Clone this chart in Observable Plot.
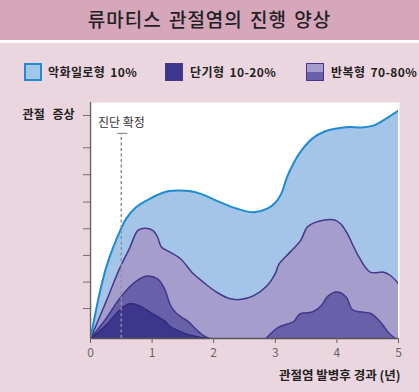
<!DOCTYPE html>
<html><head><meta charset="utf-8">
<script src="https://cdn.jsdelivr.net/npm/d3@7"></script>
<script src="https://cdn.jsdelivr.net/npm/@observablehq/plot@0.6"></script>
<style>
  html,body{margin:0;padding:0}
  body{width:419px;height:392px;position:relative;overflow:hidden;background:#ebd6df;font-family:"Noto Sans CJK KR","Noto Sans",sans-serif;}
  #title{position:absolute;left:0;top:0;width:419px;height:40px;background:#d6a6ba;color:#222;font-size:19px;font-weight:500;text-align:center;line-height:37px;letter-spacing:1px;word-spacing:2px}
  #band{position:absolute;left:0;top:40px;width:419px;height:3px;background:#fff}
  .sw{position:absolute;top:63px;width:18px;height:18px;box-sizing:border-box}
  .lt{position:absolute;top:62px;font-size:12px;font-weight:700;color:#222;line-height:20px;white-space:nowrap;letter-spacing:0.4px;word-spacing:2px}
  #chart{position:absolute;left:0;top:0}
</style>
</head><body>
<div id="title"></div>
<div id="band"></div>
<div id="legend"></div>
<div id="chart"></div>
<script>
// ---- data ----
const titleText = "류마티스 관절염의 진행 양상";
const legendLabels = ["악화일로형 10%", "단기형 10-20%", "반복형 70-80%"];
const yLabel = "관절 증상";
const xLabel = "관절염 발병후 경과 (년)";
const diagLabel = "진단 확정";
const diagT = 0.5;          // year of diagnosis
const diagTop = 86.9;       // height of dashed marker
const diagCap = [0.44, 0.605];
const xTicks = [0, 1, 2, 3, 4, 5];
const yTicks = [12.7, 23.9, 35.2, 46.5, 57.8, 69.4, 80.8, 94.5];

// 악화일로형 (progressive)
const progressiveT = [0,0.14,0.25,0.36,0.47,0.58,0.74,0.96,1.2,1.4,1.6,1.79,2.1,2.38,2.65,2.87,3.0,3.1,3.19,3.3,3.4,3.6,3.8,4.0,4.2,4.4,4.6,4.8,5.0];
const progressiveV = [0,18.2,29.7,38.1,45,50.8,55.6,59.2,62,62.7,62.5,61.3,57.8,55,53.5,55,57.5,61.5,68.4,74.5,78.8,84.7,87.7,89.0,89.6,89.4,90.3,93.2,96.6];

// 반복형 (relapsing) - total envelope
const relapsingT = [0,0.25,0.47,0.63,0.77,0.88,1.01,1.09,1.15,1.29,1.46,1.67,1.83,2.05,2.27,2.45,2.65,2.87,3.0,3.06,3.24,3.41,3.52,3.66,3.95,4.06,4.17,4.33,4.54,4.76,4.87,5.0];
const relapsingV = [0,15.4,29.5,38,45.8,46.7,45.8,42.9,38.8,36.6,33.8,27.4,23.9,19.6,16.8,16.6,18.2,22.5,27.5,31.5,36.6,41.5,47.2,49.3,50.3,48.6,44.4,35.9,28.1,28.1,26.7,23.2];

// 반복형 - lower band, first and second episodes
const relapsingLowAT = [0,0.25,0.47,0.69,0.9,1.09,1.16,1.22,1.29,1.38,1.48,1.58,1.68,1.83,1.93];
const relapsingLowAV = [0,8.3,16.8,23.2,26.4,25.3,23,20,14.5,11,9,7.4,4.8,1.3,0];
const relapsingLowBT = [2.85,3.05,3.3,3.4,3.6,3.75,3.85,4.0,4.15,4.25,4.4,4.55,4.7,4.85,4.95];
const relapsingLowBV = [0,4.7,7.2,10.4,11.2,14,17.8,19.7,17.6,12.3,11.2,10.6,7.2,2.1,0];

// 단기형 (monocyclic)
const monocyclicT = [0,0.25,0.47,0.63,0.79,1.01,1.23,1.29,1.45,1.62,1.8,1.95];
const monocyclicV = [0,5.5,11.9,14.7,14,10.5,6.9,5.2,3,1.4,0.4,0];

// ---- colors ----
const C = {
  blueFill:"#a4c5e8", blueLine:"#1e8cd2",
  lightPurple:"#a59ecc", midPurple:"#6860a8", navy:"#3c378c", edge:"#44388c"
};

const zip = (ts, vs) => ts.map((t, i) => ({t, v: vs[i]}));
const progressive = zip(progressiveT, progressiveV);
const relapsing = zip(relapsingT, relapsingV);
const lowA = zip(relapsingLowAT, relapsingLowAV);
const lowB = zip(relapsingLowBT, relapsingLowBV);
const mono = zip(monocyclicT, monocyclicV);

document.getElementById("title").textContent = titleText;

// legend
const legend = document.getElementById("legend");
const legItems = [
  {sw:`left:24px;background:${C.blueFill};border:2px solid ${C.blueLine}`, x:48},
  {sw:`left:165px;background:${C.navy};border:1.5px solid ${C.edge}`, x:190},
  {sw:`left:306px;background:linear-gradient(${C.lightPurple} 0 50%, ${C.midPurple} 50% 100%);border:1.5px solid ${C.edge}`, x:331}
];
legItems.forEach((it, i) => {
  const s = document.createElement("div"); s.className = "sw"; s.style.cssText = it.sw; legend.appendChild(s);
  const t = document.createElement("div"); t.className = "lt"; t.style.left = it.x + "px"; t.textContent = legendLabels[i]; legend.appendChild(t);
});

const curve = "catmull-rom";
const areaOpts = (fill) => ({x:"t", y:"v", fill, curve, clip:true});
const lineOpts = (stroke, w) => ({x:"t", y:"v", stroke, strokeWidth:w, curve, clip:true});

const plot = Plot.plot({
  width: 419, height: 392,
  marginLeft: 90, marginRight: 21, marginTop: 102, marginBottom: 54,
  style: {background:"transparent", fontFamily:"'Noto Sans CJK KR','Noto Sans',sans-serif", overflow:"visible"},
  x: {domain:[0,5]},
  y: {domain:[0,100]},
  marks: [
    Plot.frame({fill:"white", stroke:null, insetLeft:-1, insetRight:-1}),
    Plot.areaY(progressive, areaOpts(C.blueFill)),
    Plot.areaY(relapsing, areaOpts(C.lightPurple)),
    Plot.lineY(relapsing, lineOpts(C.edge, 1.5)),
    Plot.areaY(lowA, areaOpts(C.midPurple)),
    Plot.lineY(lowA, lineOpts(C.edge, 1.5)),
    Plot.areaY(lowB, areaOpts(C.midPurple)),
    Plot.lineY(lowB, lineOpts(C.edge, 1.5)),
    Plot.areaY(mono, areaOpts(C.navy)),
    Plot.lineY(mono, lineOpts("#2f2a7a", 1.2)),
    Plot.lineY(progressive, lineOpts(C.blueLine, 2)),
    Plot.ruleX([diagT], {y1:0, y2:diagTop, stroke:"#8f8f99", strokeWidth:1.5, strokeDasharray:"3,2.5"}),
    Plot.ruleY([diagTop], {x1:diagCap[0], x2:diagCap[1], stroke:"#8f8f99", strokeWidth:1.2}),
    Plot.text([diagLabel], {x:diagT, y:diagTop, dy:-10, text:d=>d, fontSize:12, fill:"#333", textAnchor:"middle"}),
    Plot.axisY({ticks:yTicks, tickSize:7, tickFormat:()=>"", stroke:"#7a6a75", label:null}),
    Plot.text([yLabel], {x:0, y:yTicks[yTicks.length-1], dx:-16, text:d=>d, textAnchor:"end", fontSize:12, fontWeight:"bold", fill:"#222", style:"word-spacing:5px"}),
    Plot.ruleX([0], {stroke:"#666", strokeWidth:1.5}),
    Plot.ruleY([0], {stroke:"#555", strokeWidth:1.5}),
    Plot.axisX({ticks:xTicks, tickSize:5, tickPadding:5, fontSize:12, stroke:"#666", color:"#666", label:null, tickFormat:d=>String(d)}),
    Plot.text([xLabel], {x:5, y:0, dy:37, dx:2, text:d=>d, textAnchor:"end", fontSize:12.5, fontWeight:"bold", fill:"#222"})
  ]
});
// widen word gaps of the y label like the original
plot.querySelectorAll("text").forEach(t => { if (t.textContent === yLabel) t.setAttribute("word-spacing", "5"); });
document.getElementById("chart").appendChild(plot);
</script>
</body></html>
